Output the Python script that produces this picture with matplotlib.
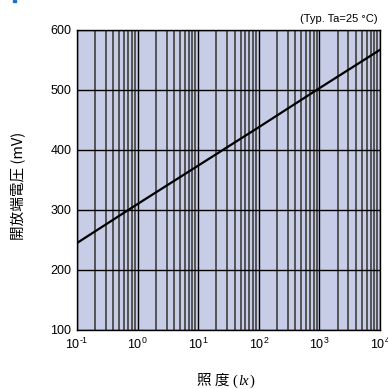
import numpy as np
import matplotlib
matplotlib.use('Agg')
import matplotlib.pyplot as plt
from matplotlib.ticker import LogLocator, FixedLocator, FuncFormatter
from matplotlib.patches import Rectangle

# Illuminance (lx) at each decade and the open-circuit voltage (mV)
lux = [0.1, 1, 10, 100, 1000, 10000]
voc_mv = [245, 310, 374, 438, 503, 567]
y_ticks = [100, 200, 300, 400, 500, 600]

W, H = 388, 389
CJK = ['Noto Sans CJK JP', 'DejaVu Sans']

plt.rcParams['mathtext.fontset'] = 'custom'
plt.rcParams['mathtext.rm'] = 'Liberation Sans'
plt.rcParams['mathtext.it'] = 'Liberation Sans:italic'

fig = plt.figure(figsize=(W / 100, H / 100), dpi=100)
ax = fig.add_axes([77 / W, 1 - 330 / H, 303 / W, 300 / H])
ax.set_facecolor('#c7cde6')

ax.set_xscale('log')
ax.set_xlim(0.1, 10000)
ax.set_ylim(100, 600)

def decade_label(v, pos):
    e = int(round(np.log10(v)))
    sign = '\u2010' if e < 0 else ''
    return r'$\mathregular{10^{%s%d}}$' % (sign, abs(e))

ax.xaxis.set_major_locator(LogLocator(base=10, numticks=10))
ax.xaxis.set_minor_locator(LogLocator(base=10, subs=np.arange(2, 10), numticks=20))
ax.xaxis.set_major_formatter(FuncFormatter(decade_label))
ax.yaxis.set_major_locator(FixedLocator(y_ticks))

ax.grid(which='major', color='black', linewidth=1.0)
ax.grid(which='minor', axis='x', color='#4a4a4a', linewidth=1.3)
ax.set_axisbelow(True)
ax.tick_params(which='both', length=0, labelsize=9)
ax.tick_params(axis='x', pad=5)
ax.tick_params(axis='y', pad=4)
for lbl in ax.get_xticklabels() + ax.get_yticklabels():
    lbl.set_family('Liberation Sans')
for s in ax.spines.values():
    s.set_linewidth(1.0)

ax.plot(lux, voc_mv, color='black', linewidth=1.6, zorder=3)

fig.text(378 / W, 1 - 19 / H, '(Typ. Ta=25 \u00b0C)', ha='right', va='center',
         fontsize=8, family='Liberation Sans')
fig.text(18 / W, 1 - 186 / H, '開放端電圧 (mV)', rotation=90, ha='center', va='center',
         fontsize=10.5, family=CJK)

# x label: CJK part, then "(lx)" in serif with italic unit
t1 = fig.text(197 / W, 1 - 381 / H, '照 度 ', ha='left', va='baseline',
              fontsize=10.5, family=CJK)
t1.set_y(1 - 385 / H)
t2 = fig.text(0, 0, '(', fontsize=10.5, family='Liberation Serif')
t3 = fig.text(0, 0, 'lx', fontsize=10.5, family='Liberation Serif', style='italic')
t4 = fig.text(0, 0, ')', fontsize=10.5, family='Liberation Serif')
fig.canvas.draw()
r = fig.canvas.get_renderer()
x = t1.get_window_extent(r).x1
for t in (t2, t3, t4):
    t.set_position((x / W, 1 - 385 / H))
    t.set_va('baseline')
    x = t.get_window_extent(r).x1 + 0.5

fig.patches.append(Rectangle((13 / W, 1 - 2 / H), 3 / W, 2 / H,
                             transform=fig.transFigure, color='#1f6fd1'))

fig.savefig('out.png', dpi=100)
